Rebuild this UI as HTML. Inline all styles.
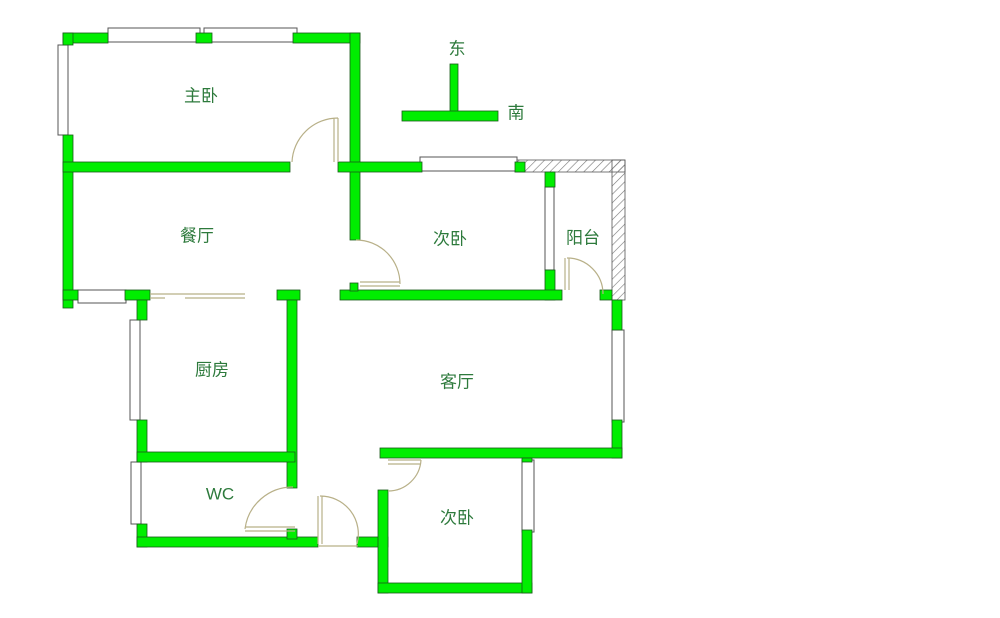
<!DOCTYPE html>
<html><head><meta charset="utf-8"><style>
html,body{margin:0;padding:0;background:#fff;}
svg{display:block}
text{font-family:"Liberation Sans","Noto Sans CJK SC",sans-serif;font-size:17px;fill:#2d7a3c;text-anchor:middle;dominant-baseline:middle}
.w{fill:#00ee00;stroke:#1a5a1a;stroke-width:0.8}
.win{fill:#fff;stroke:#555;stroke-width:1}
.d{fill:none;stroke:#b8b088;stroke-width:1.2}
</style></head><body>
<svg width="1000" height="618" viewBox="0 0 1000 618" xmlns="http://www.w3.org/2000/svg">
<defs><pattern id="h" width="6" height="6" patternUnits="userSpaceOnUse" patternTransform="rotate(45)"><line x1="0" y1="0" x2="0" y2="6" stroke="#777" stroke-width="1.2"/></pattern></defs>
<!-- balcony hatched -->
<rect x="515" y="160" width="110" height="12" fill="url(#h)" stroke="#555" stroke-width="0.8"/>
<rect x="612" y="160" width="13" height="140" fill="url(#h)" stroke="#555" stroke-width="0.8"/>
<!-- windows frames -->
<rect class="win" x="108" y="28" width="92" height="14"/>
<rect class="win" x="204" y="28" width="93" height="14"/>
<rect class="win" x="58" y="45" width="10" height="90"/>
<rect class="win" x="420" y="157" width="97" height="14"/>
<rect class="win" x="545" y="187" width="9" height="83"/>
<rect class="win" x="612" y="330" width="12" height="92"/>
<rect class="win" x="78" y="290" width="48" height="13"/>
<rect class="win" x="130" y="320" width="10" height="100"/>
<rect class="win" x="131" y="462" width="10" height="62"/>
<rect class="win" x="522" y="460" width="12" height="72"/>
<!-- walls -->
<rect class="w" x="63" y="33" width="45" height="10"/>
<rect class="w" x="196" y="33" width="16" height="10"/>
<rect class="w" x="293" y="33" width="67" height="10"/>
<rect class="w" x="63" y="33" width="10" height="12"/>
<rect class="w" x="63" y="135" width="10" height="173"/>
<rect class="w" x="350" y="33" width="10" height="207"/>
<rect class="w" x="63" y="162" width="227" height="10"/>
<rect class="w" x="338" y="162" width="84" height="10"/>
<rect class="w" x="515" y="162" width="10" height="10"/>
<rect class="w" x="545" y="172" width="10" height="15"/>
<rect class="w" x="545" y="270" width="10" height="30"/>
<rect class="w" x="340" y="290" width="222" height="10"/>
<rect class="w" x="350" y="283" width="8" height="8"/>
<rect class="w" x="600" y="290" width="12" height="10"/>
<rect class="w" x="612" y="300" width="10" height="30"/>
<rect class="w" x="612" y="420" width="10" height="38"/>
<rect class="w" x="380" y="448" width="242" height="10"/>
<rect class="w" x="63" y="290" width="15" height="10"/>
<rect class="w" x="125" y="290" width="25" height="10"/>
<rect class="w" x="137" y="300" width="10" height="20"/>
<rect class="w" x="137" y="420" width="10" height="42"/>
<rect class="w" x="277" y="290" width="23" height="10"/>
<rect class="w" x="287" y="300" width="10" height="188"/>
<rect class="w" x="137" y="452" width="158" height="10"/>
<rect class="w" x="137" y="524" width="10" height="23"/>
<rect class="w" x="137" y="537" width="181" height="10"/>
<rect class="w" x="287" y="529" width="10" height="10"/>
<rect class="w" x="357" y="537" width="31" height="10"/>
<rect class="w" x="378" y="490" width="10" height="103"/>
<rect class="w" x="378" y="583" width="154" height="10"/>
<rect class="w" x="522" y="530" width="10" height="63"/>
<rect class="w" x="522" y="458" width="10" height="4"/>
<!-- doors -->
<path class="d" d="M338 118 v44 M334 118 v44 M338 118 A46 46 0 0 0 292 162"/>
<path class="d" d="M360 282 h40 M360 286 h40 M400 284 A44 44 0 0 0 356 240"/>
<path class="d" d="M565 258 v32 M569 258 v32 M567 258 A36 36 0 0 1 603 294"/>
<path class="d" d="M150 294 h95 M185 298 h60 M150 298 h15"/>
<path class="d" d="M245 527 h50 M245 531 h50 M245 529 A48 48 0 0 1 293 487"/>
<path class="d" d="M318 496 v48 M322 496 v48 M320 496 A38 38 0 0 1 357 544 M318 546 h40"/>
<path class="d" d="M388 460 h33 M388 464 h33 M421 460 A33 33 0 0 1 388 491"/>
<!-- compass -->
<rect class="w" x="450" y="64" width="8" height="50"/>
<rect class="w" x="402" y="111" width="96" height="10"/>
<text x="457" y="50">东</text>
<text x="516" y="114">南</text>
<!-- labels -->
<text x="201" y="97">主卧</text>
<text x="197" y="237">餐厅</text>
<text x="450" y="240">次卧</text>
<text x="583" y="239">阳台</text>
<text x="212" y="371">厨房</text>
<text x="457" y="383">客厅</text>
<text x="220" y="495">WC</text>
<text x="457" y="519">次卧</text>
</svg>
</body></html>
